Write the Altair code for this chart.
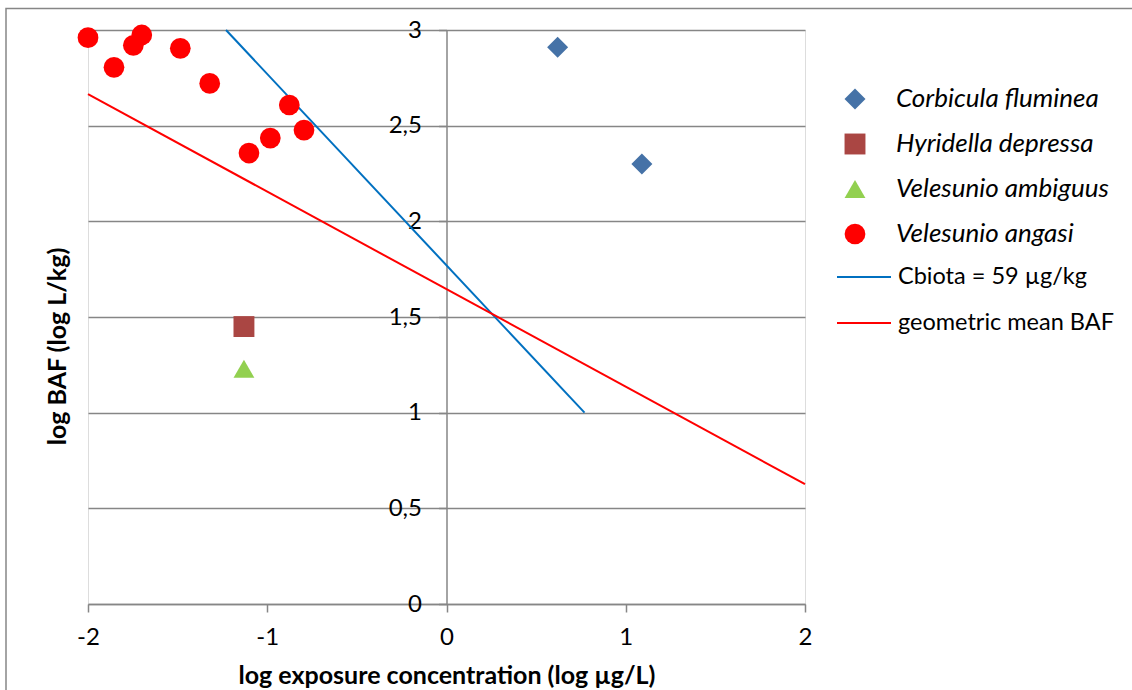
import altair as alt
import pandas as pd

# ---- data ----
series_names = ["Corbicula fluminea", "Hyridella depressa", "Velesunio ambiguus", "Velesunio angasi"]
corbicula_x = [0.62, 1.09]
corbicula_y = [2.91, 2.30]
hyridella_x = [-1.13]
hyridella_y = [1.45]
ambiguus_x = [-1.13]
ambiguus_y = [1.23]
angasi_x = [-2.00, -1.855, -1.747, -1.70, -1.485, -1.321, -0.877, -0.795, -0.983, -1.102]
angasi_y = [2.96, 2.805, 2.92, 2.974, 2.904, 2.721, 2.608, 2.477, 2.435, 2.357]

line_names = ["Cbiota = 59 µg/kg", "geometric mean BAF"]
cbiota_x = [-1.23, 0.77]
cbiota_y = [3.0, 1.0]
gmbaf_x = [-2.0, 2.0]
gmbaf_y = [2.665, 0.626]

x_ticks = [-2, -1, 0, 1, 2]
y_ticks = [0, 0.5, 1, 1.5, 2, 2.5, 3]

# ---- styles ----
point_colors = ["#4572A7", "#AA4643", "#92D050", "#FF0000"]
point_shapes = ["diamond", "square", "triangle-up", "circle"]
point_sizes = [441, 430, 441, 350]
line_colors = ["#0070C0", "#FF0000"]
grey = "#868686"
FONT = "Lato"

pts = []
for name, xs, ys in zip(series_names,
                        [corbicula_x, hyridella_x, ambiguus_x, angasi_x],
                        [corbicula_y, hyridella_y, ambiguus_y, angasi_y]):
    for xv, yv in zip(xs, ys):
        pts.append({"series": name, "x": xv, "y": yv})
points_df = pd.DataFrame(pts)

lns = []
for name, xs, ys in zip(line_names, [cbiota_x, gmbaf_x], [cbiota_y, gmbaf_y]):
    for xv, yv in zip(xs, ys):
        lns.append({"line": name, "x": xv, "y": yv})
lines_df = pd.DataFrame(lns)

W, H = 717, 574

x_scale = alt.Scale(domain=[-2, 2], nice=False, zero=False)
y_scale = alt.Scale(domain=[0, 3], nice=False, zero=False)

x_axis = alt.Axis(
    values=x_ticks, grid=False, domainColor=grey, domainWidth=1.5,
    tickColor=grey, tickWidth=1.5, tickSize=8, labelPadding=13,
    labelFont=FONT, labelFontSize=24, labelColor="black", labelFlush=False,
    labelExpr="'' + datum.value",
    title="log exposure concentration (log µg/L)", titleFont=FONT,
    titleFontSize=25, titleFontWeight="bold", titleColor="black",
    titleBaseline="alphabetic", titleY=79,
)
y_axis = alt.Axis(
    values=y_ticks, orient="left", offset=-W / 2, grid=True,
    gridColor=grey, gridWidth=1.5, domainColor=grey, domainWidth=1.5,
    tickColor=grey, tickWidth=1.5, tickSize=8, labelPadding=17,
    labelFont=FONT, labelFontSize=24, labelColor="black", labelFlush=False,
    labelExpr="replace('' + datum.value, '.', ',')",
    title="log BAF (log L/kg)", titleFont=FONT, titleFontSize=25,
    titleFontWeight="bold", titleColor="black", titleAngle=270,
    titleBaseline="alphabetic", titleX=-W / 2 - 23, titleY=316,
)

legend_species = alt.Legend(
    title=None, orient="none", legendX=754, legendY=56,
    symbolSize=300, symbolStrokeWidth=0, symbolOpacity=1,
    labelFont=FONT, labelFontSize=26, labelFontStyle="italic",
    labelColor="black", labelOffset=28, rowPadding=19, labelLimit=500,
)
legend_lines = alt.Legend(
    title=None, orient="none", legendX=748, legendY=219,
    symbolType="stroke", symbolSize=2916, symbolStrokeWidth=2,
    labelFont=FONT, labelFontSize=23.5, labelFontStyle="normal",
    labelColor="black", labelOffset=6, rowPadding=6, labelLimit=500,
)

frame = alt.Chart(pd.DataFrame({"a": [0]})).mark_rect(
    fillOpacity=0, stroke=grey, strokeWidth=1.5
).encode(
    x=alt.value(-82), x2=alt.value(1300), y=alt.value(-21.5), y2=alt.value(1000)
)

lines = alt.Chart(lines_df).mark_line(strokeWidth=2).encode(
    x=alt.X("x:Q", scale=x_scale, axis=x_axis),
    y=alt.Y("y:Q", scale=y_scale, axis=y_axis),
    stroke=alt.Stroke("line:N", scale=alt.Scale(domain=line_names, range=line_colors),
                      legend=legend_lines),
)

points = alt.Chart(points_df).mark_point(filled=True, opacity=1, strokeWidth=0).encode(
    x=alt.X("x:Q", scale=x_scale),
    y=alt.Y("y:Q", scale=y_scale),
    color=alt.Color("series:N", scale=alt.Scale(domain=series_names, range=point_colors),
                    legend=legend_species),
    shape=alt.Shape("series:N", scale=alt.Scale(domain=series_names, range=point_shapes),
                    legend=legend_species),
    size=alt.Size("series:N", scale=alt.Scale(domain=series_names, range=point_sizes),
                  legend=None),
)

chart = alt.layer(frame, lines, points).properties(
    width=W, height=H,
    autosize=alt.AutoSizeParams(type="none"),
    padding={"left": 88, "top": 30, "right": 1132 - 88 - W, "bottom": 690 - 30 - H},
).configure_view(stroke=None).configure(background="white")

chart.save("out.html", embed_options={"renderer": "svg", "actions": False})
